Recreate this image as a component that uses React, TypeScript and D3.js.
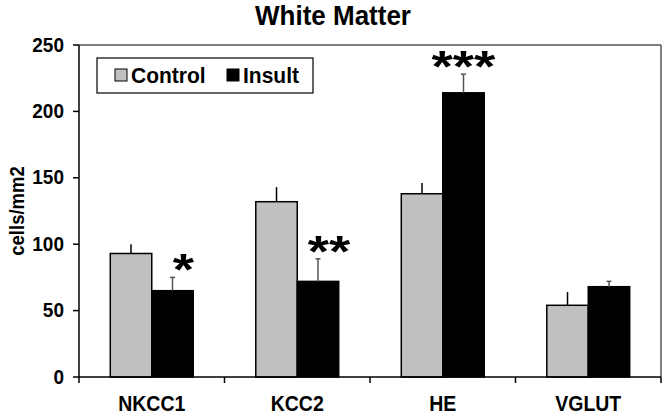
import React from "react";
import * as d3 from "d3";

const categories = ["NKCC1", "KCC2", "HE", "VGLUT"];
const controlValues = [93, 132, 138, 54];
const controlErrors = [7, 11, 8, 10];
const insultValues = [65, 72, 214, 68];
const insultErrors = [10, 17, 14, 4];
const significance = ["*", "**", "***", ""];
const yTicks = [0, 50, 100, 150, 200, 250];
const seriesNames = ["Control", "Insult"];

const W = 666;
const H = 417;
const M = { left: 79, right: 5, top: 45, bottom: 40 };
const FONT = "'Liberation Sans', Arial, sans-serif";
const GRAY = "#c0c0c0";

function T({ x, y, size, anchor = "start", rotate = 0, sx = 1, sy = 1.08, children }: any) {
  return (
    <text
      transform={`translate(${x},${y}) rotate(${rotate}) scale(${sx},${sy})`}
      textAnchor={anchor}
      fontSize={size}
      fontWeight="bold"
    >
      {children}
    </text>
  );
}

export default function App() {
  const x = d3
    .scaleBand<string>()
    .domain(categories)
    .range([M.left, W - M.right])
    .paddingInner(0.43)
    .paddingOuter(0.215);
  const y = d3.scaleLinear().domain([0, 250]).range([H - M.bottom, M.top]);
  const sub = d3.scaleBand<string>().domain(seriesNames).range([0, x.bandwidth()]);
  const step = x.step();
  const x0 = M.left;
  const x1 = W - M.right;
  const y0 = y(0);
  const yTop = y(250);

  const series = [
    { name: "Control", values: controlValues, errors: controlErrors, fill: GRAY, cap: false },
    { name: "Insult", values: insultValues, errors: insultErrors, fill: "#000", cap: true },
  ];

  return (
    <svg width={W} height={H} style={{ position: "absolute", left: 0, top: 0, background: "#fff" }} fontFamily={FONT}>
      <rect x={0} y={0} width={W} height={H} fill="#fff" />
      <T x={333} y={25} size={26} anchor="middle">White Matter</T>

      {/* frame */}
      <line x1={x0} y1={yTop} x2={x1} y2={yTop} stroke="#555" strokeWidth={1.5} />
      <line x1={x1} y1={yTop} x2={x1} y2={y0} stroke="#555" strokeWidth={1.5} />

      {/* bars */}
      {series.map((s) =>
        categories.map((c, i) => {
          const bx = (x(c) as number) + (sub(s.name) as number);
          const bw = sub.bandwidth();
          const top = y(s.values[i]);
          const et = y(s.values[i] + s.errors[i]);
          const cx = bx + bw / 2;
          return (
            <g key={s.name + c}>
              <rect x={bx} y={top} width={bw} height={y0 - top} fill={s.fill} stroke="#000" strokeWidth={1.5} />
              <line x1={cx} y1={top} x2={cx} y2={et} stroke={s.name === "Insult" ? "#555" : "#000"} strokeWidth={1.5} />
              {s.cap && <line x1={cx - 2.5} y1={et} x2={cx + 2.5} y2={et} stroke="#555" strokeWidth={1.5} />}
            </g>
          );
        })
      )}

      {/* significance stars */}
      {categories.map((c, i) => {
        const n = significance[i].length;
        if (!n) return null;
        const cx = (x(c) as number) + (sub("Insult") as number) + sub.bandwidth() / 2 + (n < 3 ? 11 : 0);
        const et = y(insultValues[i] + insultErrors[i]);
        return (
          <T key={"s" + c} x={cx} y={et + 8} size={52} anchor="middle" sx={1.05} sy={0.85}>
            {significance[i]}
          </T>
        );
      })}

      {/* y axis */}
      <line x1={x0} y1={yTop} x2={x0} y2={y0} stroke="#000" strokeWidth={1.5} />
      {yTicks.map((t) => (
        <g key={"y" + t}>
          <line x1={x0 - 6} y1={y(t)} x2={x0} y2={y(t)} stroke="#000" strokeWidth={1.5} />
          <T x={x0 - 15} y={y(t) + 6.5} size={19} anchor="end">{t}</T>
        </g>
      ))}
      <T x={24} y={(yTop + y0) / 2} size={18.5} anchor="middle" rotate={-90}>cells/mm2</T>

      {/* x axis */}
      <line x1={x0} y1={y0} x2={x1} y2={y0} stroke="#000" strokeWidth={1.5} />
      {d3.range(categories.length + 1).map((k) => (
        <line key={"xt" + k} x1={x0 + k * step} y1={y0} x2={x0 + k * step} y2={y0 + 6} stroke="#000" strokeWidth={1.5} />
      ))}
      {categories.map((c) => (
        <T key={"xl" + c} x={(x(c) as number) + x.bandwidth() / 2} y={y0 + 34} size={19.5} anchor="middle" sy={1.12}>{c}</T>
      ))}

      {/* legend */}
      <rect x={97} y={58} width={216} height={35} fill="#fff" stroke="#000" strokeWidth={1.2} />
      <rect x={115} y={69} width={12} height={12} fill={GRAY} stroke="#000" strokeWidth={1} />
      <T x={131} y={83} size={21}>{seriesNames[0]}</T>
      <rect x={227} y={69} width={12} height={12} fill="#000" stroke="#000" strokeWidth={1} />
      <T x={243} y={83} size={21}>{seriesNames[1]}</T>
    </svg>
  );
}
